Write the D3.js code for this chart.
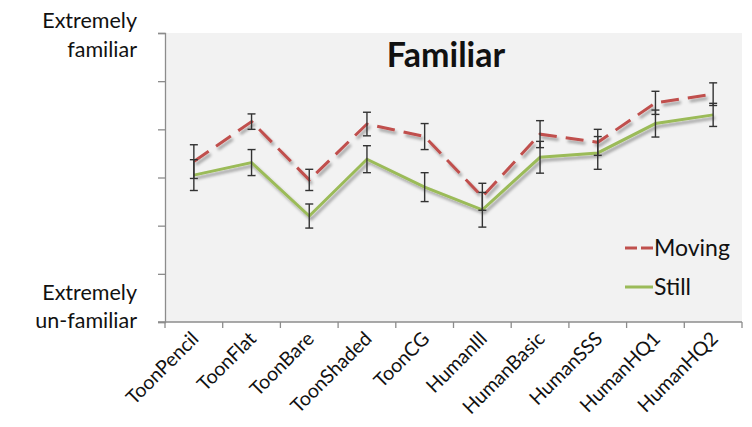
<!DOCTYPE html>
<html>
<head>
<meta charset="utf-8">
<script src="https://cdn.jsdelivr.net/npm/d3@7/dist/d3.min.js"></script>
<style>
  html, body { margin: 0; padding: 0; background: #fff; }
  svg { display: block; font-family: Lato, "Open Sans", sans-serif; }
</style>
</head>
<body>
<svg id="chart" width="752" height="427"></svg>
<script>
const categories = ["ToonPencil","ToonFlat","ToonBare","ToonShaded","ToonCG","HumanIll","HumanBasic","HumanSSS","HumanHQ1","HumanHQ2"];
const movingValues = [4.33, 5.16, 3.95, 5.11, 4.85, 3.60, 4.90, 4.73, 5.55, 5.73];
const movingErrors = [0.35, 0.16, 0.22, 0.245, 0.27, 0.28, 0.28, 0.27, 0.24, 0.235];
const stillValues  = [4.05, 4.31, 3.20, 4.38, 3.80, 3.33, 4.42, 4.51, 5.12, 5.30];
const stillErrors  = [0.32, 0.27, 0.25, 0.28, 0.30, 0.36, 0.33, 0.34, 0.28, 0.24];
const yTicks = [1, 2, 3, 4, 5, 6, 7];
const title = "Familiar";
const seriesNames = ["Moving", "Still"];

(function () {
const svg = d3.select("#chart");
const pLeft = 165, pRight = 742, pTop = 33, pBottom = 322;

const x = d3.scaleBand().domain(categories).range([pLeft, pRight]).padding(0);
const y = d3.scaleLinear().domain([1, 7]).range([pBottom, pTop]);
const cx = c => x(c) + x.bandwidth() / 2;

const defs = svg.append("defs");
const f = defs.append("filter").attr("id", "shadow").attr("x", "-10%").attr("y", "-30%").attr("width", "130%").attr("height", "180%");
f.append("feGaussianBlur").attr("in", "SourceAlpha").attr("stdDeviation", 1.5).attr("result", "b");
f.append("feOffset").attr("in", "b").attr("dx", 2).attr("dy", 3).attr("result", "o");
f.append("feComponentTransfer").attr("in", "o").attr("result", "o2")
  .append("feFuncA").attr("type", "linear").attr("slope", 0.35);
const m = f.append("feMerge");
m.append("feMergeNode").attr("in", "o2");
m.append("feMergeNode").attr("in", "SourceGraphic");

// plot background
svg.append("rect").attr("x", pLeft + 1).attr("y", pTop).attr("width", pRight - pLeft - 1).attr("height", pBottom - pTop)
  .attr("fill", "#f2f2f2");

// y axis
const yAxis = svg.append("g").attr("transform", `translate(${pLeft},0)`)
  .call(d3.axisLeft(y).tickValues(yTicks).tickSize(7).tickFormat(""));
yAxis.select(".domain").attr("stroke", "#8c8c8c").attr("stroke-width", 1.3);
yAxis.selectAll(".tick line").attr("stroke", "#8c8c8c").attr("stroke-width", 1.3);

// x axis
const boundaries = categories.map(c => x(c)).concat([x.range()[1]]);
const xg = svg.append("g");
xg.append("line").attr("x1", pLeft - 7).attr("x2", pRight).attr("y1", pBottom).attr("y2", pBottom)
  .attr("stroke", "#8c8c8c").attr("stroke-width", 1.3);
xg.selectAll("line.t").data(boundaries).join("line").attr("class", "t")
  .attr("x1", d => d).attr("x2", d => d).attr("y1", pBottom).attr("y2", pBottom + 6)
  .attr("stroke", "#8c8c8c").attr("stroke-width", 1.3);
xg.selectAll("text").data(categories).join("text")
  .attr("transform", c => `translate(${cx(c) + 6},${pBottom + 18}) rotate(-45)`)
  .attr("text-anchor", "end").attr("font-size", 19.5).attr("fill", "#111")
  .text(c => c);

// y labels
const yl = svg.append("g").attr("font-size", 21.5).attr("fill", "#111").attr("text-anchor", "end");
yl.append("text").attr("x", 137).attr("y", 28).text("Extremely");
yl.append("text").attr("x", 137).attr("y", 57).text("familiar");
yl.append("text").attr("x", 137).attr("y", 300).text("Extremely");
yl.append("text").attr("x", 137).attr("y", 328).text("un-familiar");

// title
svg.append("text").attr("x", 446).attr("y", 67).attr("text-anchor", "middle")
  .attr("font-size", 34).attr("font-weight", "bold").attr("fill", "#111").text(title);

const line = d3.line().x((d, i) => cx(categories[i])).y(d => y(d));

// lines
svg.append("path").datum(stillValues).attr("d", line).attr("fill", "none")
  .attr("stroke", "#9bbb59").attr("stroke-width", 3).attr("filter", "url(#shadow)");
svg.append("path").datum(movingValues).attr("d", line).attr("fill", "none")
  .attr("stroke", "#c0504d").attr("stroke-width", 3).attr("stroke-dasharray", "18,9")
  .attr("filter", "url(#shadow)");

// error bars
function errBars(vals, errs) {
  const g = svg.append("g").attr("stroke", "#333").attr("stroke-width", 1.4);
  vals.forEach((v, i) => {
    const xc = cx(categories[i]);
    const y1 = y(v + errs[i]), y2 = y(v - errs[i]);
    g.append("line").attr("x1", xc).attr("x2", xc).attr("y1", y1).attr("y2", y2);
    g.append("line").attr("x1", xc - 4).attr("x2", xc + 4).attr("y1", y1).attr("y2", y1);
    g.append("line").attr("x1", xc - 4).attr("x2", xc + 4).attr("y1", y2).attr("y2", y2);
  });
}
errBars(movingValues, movingErrors);
errBars(stillValues, stillErrors);

// legend
const lg = svg.append("g");
const legendRows = [
  {name: seriesNames[0], color: "#c0504d", dash: "12,4", y: 248},
  {name: seriesNames[1], color: "#9bbb59", dash: null, y: 287}
];
lg.selectAll("line").data(legendRows).join("line")
  .attr("x1", 625).attr("x2", 653).attr("y1", d => d.y).attr("y2", d => d.y)
  .attr("stroke", d => d.color).attr("stroke-width", 3)
  .attr("stroke-dasharray", d => d.dash);
lg.selectAll("text").data(legendRows).join("text")
  .attr("x", 654).attr("y", d => d.y + 8).attr("font-size", 23).attr("fill", "#111")
  .text(d => d.name);
})();
</script>
</body>
</html>
